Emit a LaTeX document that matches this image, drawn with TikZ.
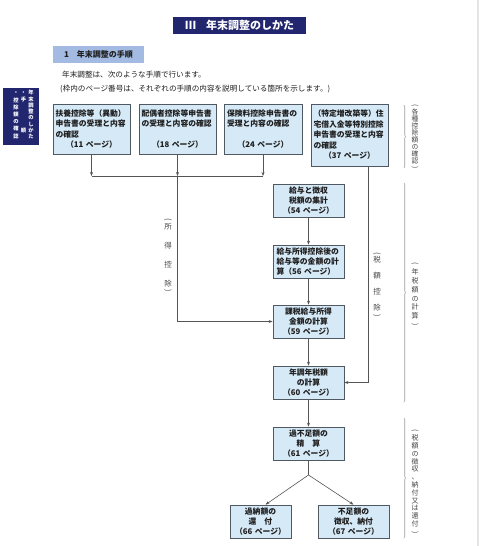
\documentclass[tikz,border=0pt]{standalone}
\usepackage{fontspec}
\setmainfont{Noto Sans CJK JP}
\usetikzlibrary{arrows.meta,decorations.pathreplacing}
\definecolor{navy}{RGB}{33,38,110}
\definecolor{secblue}{RGB}{163,187,226}
\definecolor{boxfill}{RGB}{214,233,247}
\definecolor{boxline}{RGB}{80,88,98}
\definecolor{linecol}{RGB}{85,85,85}
\definecolor{txt}{RGB}{30,30,30}
\definecolor{lbl}{RGB}{70,70,70}
\newcommand\vop{\rotatebox[origin=c]{-90}{(}}
\newcommand\vcl{\rotatebox[origin=c]{-90}{)}}
\begin{document}
\begin{tikzpicture}[x=1pt,y=-1pt,
  box/.style={draw=boxline, fill=boxfill, line width=0.7pt, inner sep=0pt, text=txt,
    font=\fontsize{7.8}{10.5}\selectfont\bfseries},
  lowbox/.style={box, minimum width=71pt, minimum height=33pt, text width=66pt, align=center,
    font=\fontsize{7.8}{10}\selectfont\bfseries},
  arr/.style={draw=linecol, line width=0.6pt, -{Stealth[length=4pt,width=3pt]}},
  ln/.style={draw=linecol, line width=0.6pt},
  brc/.style={draw=gray!75, line width=0.6pt, decorate, decoration={brace, amplitude=1.5pt}},
  vlbl/.style={text=lbl, inner sep=0pt, align=center},
  tabtxt/.style={text=white, inner sep=0pt, align=center, font=\fontsize{5.3}{6.3}\selectfont\bfseries}
]
\useasboundingbox (0,0) rectangle (480,546);
\fill[white] (0,0) rectangle (480,546);
\draw[gray!20, line width=2pt] (478,0) -- (478,546);

% title and heading
\node[fill=navy, text=white, font=\fontsize{11}{13}\selectfont\bfseries, minimum width=133pt,
  minimum height=17pt, inner sep=0pt] (title) at (239.5,25.5) {Ⅲ\hspace{10pt}年末調整のしかた};
\node[fill=secblue, text=txt, font=\fontsize{8}{10}\selectfont\bfseries, minimum width=91pt,
  minimum height=17pt, inner sep=0pt] (sec) at (98.5,54.5) {1\hspace{8pt}年末調整の手順};
\node[anchor=west, inner sep=0pt, text=txt, font=\fontsize{7.6}{9}\selectfont] (intro1) at (62,75)
  {年末調整は、次のような手順で行います。};
\node[anchor=west, inner sep=0pt, text=txt, font=\fontsize{7.6}{9}\selectfont] (intro2) at (60,89)
  {(枠内のページ番号は、それぞれの手順の内容を説明している箇所を示します。)};

% left tab
\fill[navy] (3,88) rectangle (39,145);
\node[tabtxt, anchor=north] (tab1) at (31,90) {年\\末\\調\\整\\の\\し\\か\\た};
\node[tabtxt, anchor=north] (tab2) at (23.5,92) {・\\手\\\mbox{}\\\mbox{}\\\mbox{}\\\mbox{}\\順};
\node[tabtxt, anchor=north, font=\fontsize{5.3}{7.2}\selectfont\bfseries] (tab3) at (16,92) {・\\控\\除\\額\\の\\確\\認};

% top boxes
\node[box, minimum width=77pt, minimum height=50pt, text width=72pt, align=left] (b1) at (91.5,129)
  {扶養控除等（異動）\\申告書の受理と内容\\の確認\\\makebox[72pt]{（11 ページ）}};
\node[box, minimum width=77pt, minimum height=50pt, text width=72pt, align=left] (b2) at (177.5,129)
  {配偶者控除等申告書\\の受理と内容の確認\\\mbox{}\\\makebox[72pt]{（18 ページ）}};
\node[box, minimum width=78pt, minimum height=50pt, text width=72pt, align=left] (b3) at (263,129)
  {保険料控除申告書の\\受理と内容の確認\\\mbox{}\\\makebox[72pt]{（24 ページ）}};
\node[box, minimum width=77pt, minimum height=62pt, text width=72pt, align=left] (b4) at (349.5,135)
  {（特定増改築等）住\\宅借入金等特別控除\\申告書の受理と内容\\の確認\\\makebox[72pt]{（37 ページ）}};

% middle column
\node[lowbox] (b5) at (308.5,200.5) {給与と徴収\\税額の集計\\（54 ページ）};
\node[lowbox, text width=64pt, align=left] (b6) at (308.5,261.5) {給与所得控除後の\\給与等の金額の計\\算（56 ページ）};
\node[lowbox] (b7) at (308.5,321.5) {課税給与所得\\金額の計算\\（59 ページ）};
\node[lowbox] (b8) at (308.5,382.5) {年調年税額\\の計算\\（60 ページ）};
\node[lowbox] (b9) at (308.5,443.5) {過不足額の\\精\hspace{8pt}算\\（61 ページ）};
\node[lowbox, minimum width=61pt, text width=58pt] (b10) at (260.5,521.5) {過納額の\\還\hspace{8pt}付\\（66 ページ）};
\node[lowbox] (b11) at (353.5,521.5) {不足額の\\徴収、納付\\（67 ページ）};

% connectors
\coordinate (hl) at (0,176);
\draw[arr] (b1.south) -- (b1.south |- hl);
\draw[arr] (b2.south) -- (b2.south |- hl);
\draw[arr] (b3.south) -- (b3.south |- hl);
\draw[ln] (b1.south |- hl) -- (b3.south |- hl);
\draw[arr] (b2.south |- hl) |- (b7.west);
\draw[arr] ([xshift=18.5pt]b4.south) |- (b8.east);
\draw[arr] (b5) -- (b6);
\draw[arr] (b6) -- (b7);
\draw[arr] (b7) -- (b8);
\draw[arr] (b8) -- (b9);
\coordinate (sp) at (308.5,475);
\draw[ln] (b9.south) -- (sp);
\draw[arr] (sp) -- ([xshift=5pt]b10.north);
\draw[arr] (sp) -- (b11.north);

% side labels on connectors
\node[vlbl, font=\fontsize{7.5}{19}\selectfont] (l1) at (168,256) {\vop\\[-12pt]所\\得\\控\\除\\[-12pt]\vcl};
\node[vlbl, font=\fontsize{7.5}{16}\selectfont] (l2) at (377,285) {\vop\\[-9pt]税\\額\\控\\除\\[-9pt]\vcl};

% right braces
\draw[brc] (404,105) -- (404,168);
\draw[brc] (404,183) -- (404,402);
\draw[brc] (404,418) -- (404,538);
\node[vlbl, font=\fontsize{6.8}{6.9}\selectfont] (r1) at (415,137.5) {\vop\\各\\種\\控\\除\\額\\の\\確\\認\\\vcl};
\node[vlbl, font=\fontsize{7}{8.7}\selectfont] (r2) at (415,295) {\vop\\年\\税\\額\\の\\計\\算\\\vcl};
\node[vlbl, font=\fontsize{7}{7.8}\selectfont] (r3) at (415,482) {\vop\\税\\額\\の\\徴\\収\\、\\納\\付\\又\\は\\還\\付\\\vcl};
\end{tikzpicture}
\end{document}
